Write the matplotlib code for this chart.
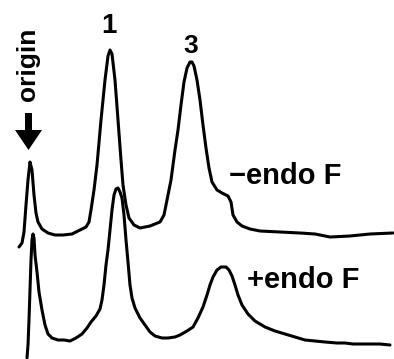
import matplotlib
matplotlib.use("Agg")
import matplotlib.pyplot as plt
from matplotlib.patches import FancyArrow

# Trace (x: migration position, y: signal, image-pixel units, y downward)
minus_x = [19, 22, 24, 26, 28, 30, 32, 34, 36, 38, 42, 48, 55, 63, 72, 80, 86, 89, 91, 94, 97, 101,
           105, 108, 110, 112, 115, 118, 121, 123, 126, 129, 134, 140, 150, 160, 164, 167, 171, 175,
           178, 181, 184, 187, 190, 192, 194, 197, 200, 203, 206, 209, 212, 217, 222, 228, 231, 233,
           237, 242, 250, 260, 280, 300, 315, 330, 350, 370, 393]
minus_y = [247, 243, 232, 205, 180, 162, 170, 195, 213, 222, 229, 233, 235, 235, 234, 230, 227, 222,
           210, 190, 165, 120, 80, 56, 50, 54, 80, 120, 160, 185, 205, 218, 225, 228, 226, 222, 215,
           200, 180, 150, 130, 105, 82, 68, 62, 62, 66, 80, 100, 125, 148, 168, 182, 190, 193, 196,
           202, 215, 222, 226, 229, 231, 232, 233, 234, 237, 236, 234, 233]

plus_x = [27, 28, 29, 30, 31, 32, 33, 34, 35, 37, 39, 42, 45, 48, 52, 58, 64, 70, 76, 82, 87, 91, 96,
          100, 102, 104, 106, 108, 110, 112, 114, 116, 118, 120, 122, 124, 126, 128, 130, 132, 135,
          140, 145, 150, 155, 162, 168, 175, 180, 187, 193, 198, 203, 207, 210, 213, 217, 221, 226,
          229, 232, 235, 238, 242, 248, 255, 265, 275, 285, 295, 305, 315, 325, 337, 345, 353, 365,
          380, 390]
plus_y = [358, 345, 320, 290, 260, 240, 234, 238, 255, 272, 292, 310, 325, 334, 338, 340, 340, 341,
          338, 334, 328, 322, 316, 309, 300, 285, 265, 250, 230, 210, 195, 189, 188, 192, 198, 215,
          240, 262, 285, 298, 308, 318, 325, 332, 336, 338, 338, 337, 335, 331, 327, 318, 307, 295,
          285, 277, 270, 267, 267, 270, 276, 285, 295, 305, 314, 321, 327, 331, 334, 337, 340, 341,
          342, 343, 343, 344, 344, 344, 345]

peak_labels = ["1", "3"]
trace_labels = ["\u2212endo F", "+endo F"]
origin_label = "origin"

W, H = 394, 359
fig = plt.figure(figsize=(W / 100, H / 100), dpi=100)
ax = fig.add_axes([0, 0, 1, 1])
ax.set_xlim(0, W)
ax.set_ylim(H, 0)
ax.axis("off")

lw = 2.2
ax.plot(minus_x, minus_y, color="black", lw=lw, solid_joinstyle="round", solid_capstyle="round")
ax.plot(plus_x, plus_y, color="black", lw=lw, solid_joinstyle="round", solid_capstyle="round")

fam = ["Liberation Sans", "DejaVu Sans"]
ax.text(109, 33, peak_labels[0], fontsize=20, fontweight="bold", family=fam, ha="center", va="baseline")
ax.text(191, 53, peak_labels[1], fontsize=19, fontweight="bold", family=fam, ha="center", va="baseline")
ax.text(229, 184, trace_labels[0], fontsize=21, fontweight="bold", family=fam, ha="left", va="baseline")
ax.text(247, 288, trace_labels[1], fontsize=21, fontweight="bold", family=fam, ha="left", va="baseline")
ax.text(28, 64, origin_label, fontsize=19, fontweight="bold", family=fam, ha="center", va="center",
        rotation=90)

ax.add_patch(FancyArrow(28.5, 113, 0, 37, width=7, head_width=27, head_length=20,
                        length_includes_head=True, color="black", lw=0))

fig.savefig("out.png", dpi=100)
